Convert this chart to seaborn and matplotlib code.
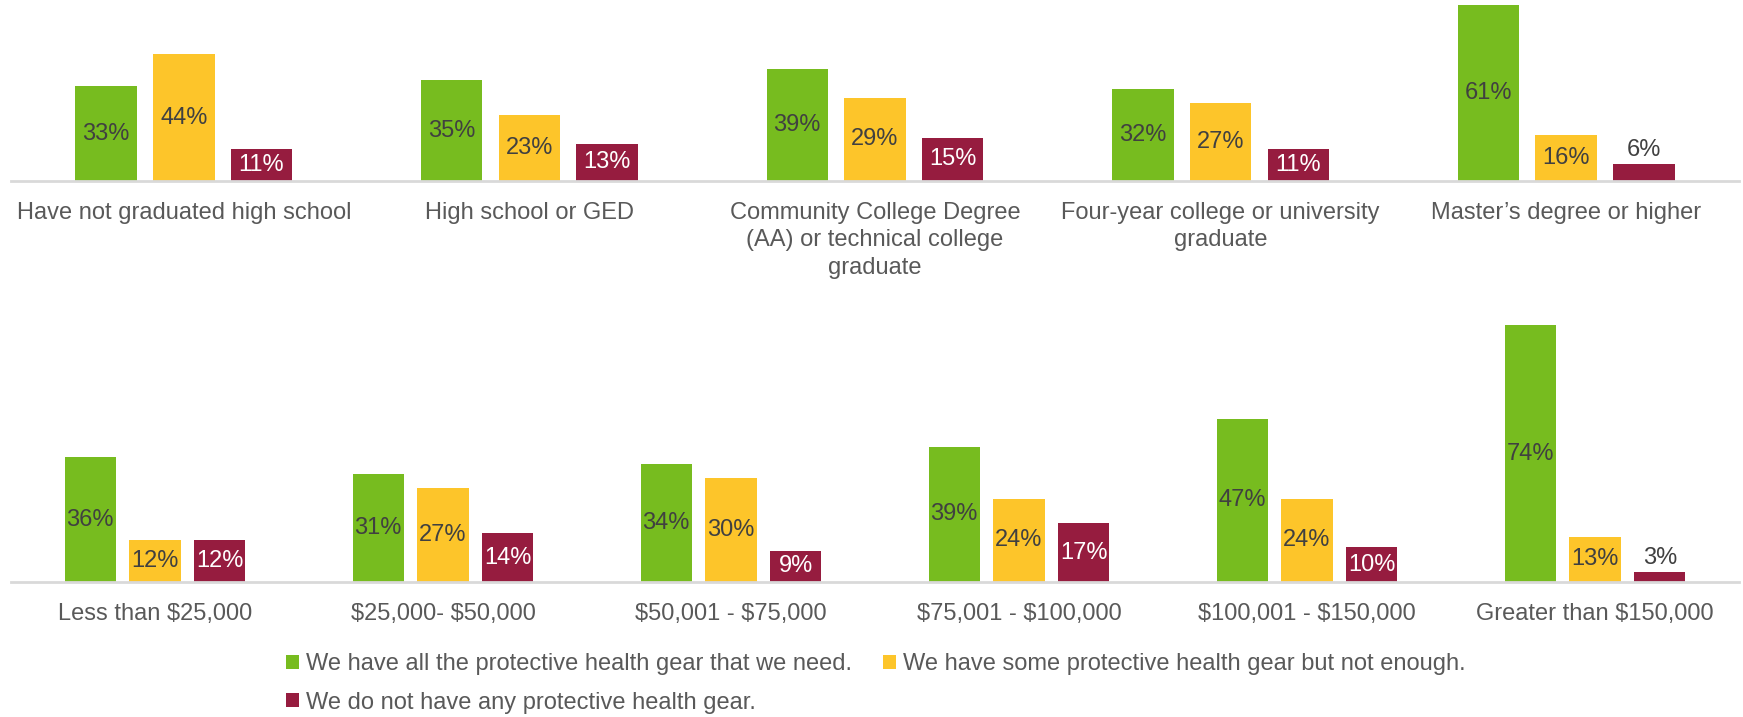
import matplotlib
matplotlib.use("Agg")
import matplotlib.pyplot as plt
import seaborn as sns
import pandas as pd
from matplotlib.patches import Patch

edu_categories = ["Have not graduated high school", "High school or GED",
                  "Community College Degree\n(AA) or technical college\ngraduate",
                  "Four-year college or university\ngraduate",
                  "Master\u2019s degree or higher"]
edu_all = [33, 35, 39, 32, 61]
edu_some = [44, 23, 29, 27, 16]
edu_none = [11, 13, 15, 11, 6]

inc_categories = ["Less than $25,000", "$25,000- $50,000", "$50,001 - $75,000",
                  "$75,001 - $100,000", "$100,001 - $150,000", "Greater than $150,000"]
inc_all = [36, 31, 34, 39, 47, 74]
inc_some = [12, 27, 30, 24, 24, 13]
inc_none = [12, 14, 9, 17, 10, 3]

series_names = ["We have all the protective health gear that we need.",
                "We have some protective health gear but not enough.",
                "We do not have any protective health gear."]
colors = ["#77BC1F", "#FDC52A", "#961C3F"]
label_colors = ["#404040", "#404040", "#FFFFFF"]


def long_df(cats, a, s, n):
    rows = []
    for vals, name in zip([a, s, n], series_names):
        for c, v in zip(cats, vals):
            rows.append({"cat": c, "series": name, "value": v})
    return pd.DataFrame(rows)


sns.set_style("white")
plt.rcParams['font.family'] = ['Liberation Sans', 'DejaVu Sans']
plt.rcParams['text.parse_math'] = False

W, H = 1743, 717
fig = plt.figure(figsize=(W / 100, H / 100), dpi=100)

left = 11 / W
width = (1739 - 11) / W
ax_top = fig.add_axes([left, 1 - 181 / H, width, 181 / H])
ax_bot = fig.add_axes([left, 1 - 582 / H, width, 282 / H])


def draw(ax, cats, a, s, n, ytop):
    df = long_df(cats, a, s, n)
    sns.barplot(data=df, x="cat", y="value", hue="series", order=cats,
                hue_order=series_names, palette=colors, width=0.675, gap=0.21,
                ax=ax, legend=False, saturation=1, edgecolor="none")
    ax.set_ylim(0, ytop)
    ax.set_xlim(-0.5, len(cats) - 0.5)
    ax.set_xlabel("")
    ax.set_ylabel("")
    ax.set_yticks([])
    for sp in ["top", "left", "right"]:
        ax.spines[sp].set_visible(False)
    ax.spines["bottom"].set_color("#D9D9D9")
    ax.spines["bottom"].set_linewidth(2)
    ax.tick_params(axis="x", length=0, pad=15, labelsize=17, labelcolor="#595959")
    for t in ax.get_xticklabels():
        t.set_linespacing(1.33)
    for i, cont in enumerate(ax.containers):
        vals = [p.get_height() for p in cont]
        big = [f"{v:.0f}%" if v >= 8 else "" for v in vals]
        small = [f"{v:.0f}%" if v < 8 else "" for v in vals]
        ax.bar_label(cont, labels=big, label_type="center", fontsize=17,
                     color=label_colors[i])
        ax.bar_label(cont, labels=small, label_type="edge", fontsize=17,
                     color="#404040", padding=2)


draw(ax_top, edu_categories, edu_all, edu_some, edu_none, 62.9)
draw(ax_bot, inc_categories, inc_all, inc_some, inc_none, 81.3)

handles = [Patch(facecolor=c, edgecolor="none") for c in colors]
order = [0, 2, 1]
leg = fig.legend([handles[i] for i in order], [series_names[i] for i in order],
                 loc="upper left", bbox_to_anchor=(286 / W, 1 - 653 / H), ncol=2,
                 frameon=False, fontsize=17, handlelength=0.55, handleheight=0.55,
                 handletextpad=0.3, columnspacing=1.3, labelspacing=0.7,
                 borderaxespad=0, borderpad=0)
for t in leg.get_texts():
    t.set_color("#595959")

fig.savefig("out.png", dpi=100)
